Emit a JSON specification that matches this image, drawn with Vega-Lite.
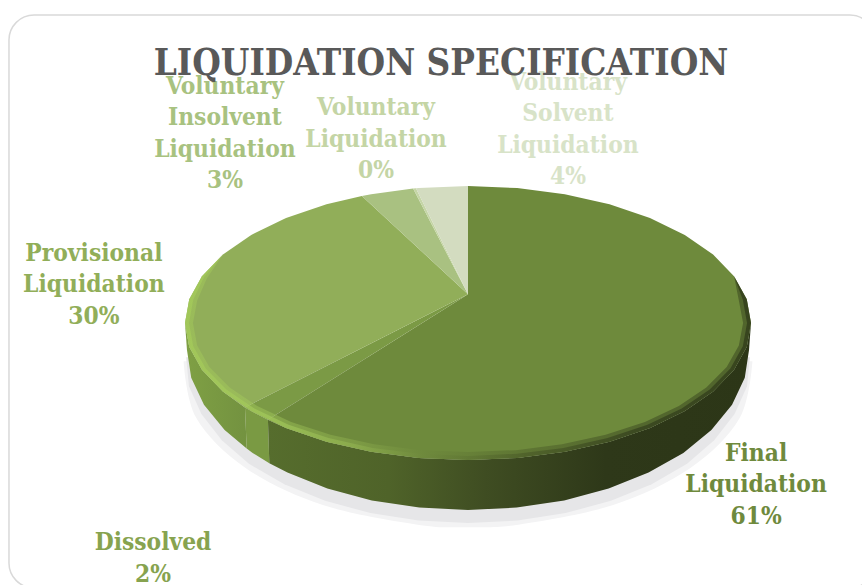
{"$schema":"https://vega.github.io/schema/vega-lite/v6.json","width":862,"height":585,"padding":0,"autosize":{"type":"none"},"background":"white","view":{"stroke":null},
"title":{"text":"LIQUIDATION SPECIFICATION","anchor":"middle","font":"DejaVu Serif Condensed","fontWeight":"bold","fontSize":36.5,"color":"#595959","dx":10,"dy":86},
"datasets":{
"frame":[{"u":-162.2,"v":224.8,"u2":143.8,"v2":-193.4}],
"shadow":[{"s":"outer","i":0,"u":100.5,"v":-28},{"s":"outer","i":1,"u":96,"v":-69.4},{"s":"outer","i":2,"u":78.6,"v":-105.8},{"s":"outer","i":3,"u":51.3,"v":-132.8},{"s":"outer","i":4,"u":17.8,"v":-147.2},{"s":"outer","i":5,"u":0,"v":-149},{"s":"outer","i":6,"u":-17.8,"v":-147.2},{"s":"outer","i":7,"u":-51.3,"v":-132.8},{"s":"outer","i":8,"u":-78.6,"v":-105.8},{"s":"outer","i":9,"u":-96,"v":-69.4},{"s":"outer","i":10,"u":-100.5,"v":-28},
{"s":"inner","i":0,"u":99.6,"v":-25},{"s":"inner","i":1,"u":98.6,"v":-46.1},{"s":"inner","i":2,"u":94.2,"v":-66.4},{"s":"inner","i":3,"u":87,"v":-85.5},{"s":"inner","i":4,"u":77.4,"v":-102.8},{"s":"inner","i":5,"u":64.9,"v":-117.7},{"s":"inner","i":6,"u":50.5,"v":-129.8},{"s":"inner","i":7,"u":34.5,"v":-138.7},{"s":"inner","i":8,"u":17.5,"v":-144.2},{"s":"inner","i":9,"u":0,"v":-146},{"s":"inner","i":10,"u":-17.5,"v":-144.2},{"s":"inner","i":11,"u":-34.5,"v":-138.7},{"s":"inner","i":12,"u":-50.5,"v":-129.8},{"s":"inner","i":13,"u":-64.9,"v":-117.7},{"s":"inner","i":14,"u":-77.4,"v":-102.8},{"s":"inner","i":15,"u":-87,"v":-85.5},{"s":"inner","i":16,"u":-94.2,"v":-66.4},{"s":"inner","i":17,"u":-98.6,"v":-46.1},{"s":"inner","i":18,"u":-99.6,"v":-25}],
"wallProvisional":[{"i":0,"u":-78.8,"v":-61.6},{"i":1,"u":-86.6,"v":-50},{"i":2,"u":-94,"v":-34.2},{"i":3,"u":-98.5,"v":-17.4},{"i":4,"u":-100,"v":0},{"i":5,"u":-99.3,"v":-19.7},{"i":6,"u":-97.8,"v":-40},{"i":7,"u":-93.3,"v":-59.6},{"i":8,"u":-86,"v":-78.1},{"i":9,"u":-78.2,"v":-91.6}],
"wallDissolved":[{"i":0,"u":-70.7,"v":-70.7},{"i":1,"u":-76.6,"v":-64.3},{"i":2,"u":-78.8,"v":-61.6},{"i":3,"u":-78.2,"v":-91.6},{"i":4,"u":-76.1,"v":-94.8},{"i":5,"u":-70.2,"v":-102.3}],
"wallFinal":[{"i":0,"u":100,"v":0},{"i":1,"u":98.5,"v":-17.4},{"i":2,"u":94,"v":-34.2},{"i":3,"u":86.6,"v":-50},{"i":4,"u":76.6,"v":-64.3},{"i":5,"u":64.3,"v":-76.6},{"i":6,"u":50,"v":-86.6},{"i":7,"u":34.2,"v":-94},{"i":8,"u":17.4,"v":-98.5},{"i":9,"u":0,"v":-100},{"i":10,"u":-17.4,"v":-98.5},{"i":11,"u":-34.2,"v":-94},{"i":12,"u":-50,"v":-86.6},{"i":13,"u":-64.3,"v":-76.6},{"i":14,"u":-70.7,"v":-70.7},{"i":15,"u":-70.2,"v":-102.3},{"i":16,"u":-63.8,"v":-109.2},{"i":17,"u":-49.7,"v":-120.8},{"i":18,"u":-34,"v":-129.5},{"i":19,"u":-17.2,"v":-134.7},{"i":20,"u":0,"v":-136.5},{"i":21,"u":17.2,"v":-134.7},{"i":22,"u":34,"v":-129.5},{"i":23,"u":49.7,"v":-120.8},{"i":24,"u":63.8,"v":-109.2},{"i":25,"u":76.1,"v":-94.8},{"i":26,"u":86,"v":-78.1},{"i":27,"u":93.3,"v":-59.6},{"i":28,"u":97.8,"v":-40},{"i":29,"u":99.3,"v":-19.7}],
"top":[
{"slice":"Final Liquidation","i":0,"u":0,"v":21},{"slice":"Final Liquidation","i":1,"u":0,"v":100},{"slice":"Final Liquidation","i":2,"u":17.4,"v":98.5},{"slice":"Final Liquidation","i":3,"u":34.2,"v":94},{"slice":"Final Liquidation","i":4,"u":50,"v":86.6},{"slice":"Final Liquidation","i":5,"u":64.3,"v":76.6},{"slice":"Final Liquidation","i":6,"u":76.6,"v":64.3},{"slice":"Final Liquidation","i":7,"u":86.6,"v":50},{"slice":"Final Liquidation","i":8,"u":94,"v":34.2},{"slice":"Final Liquidation","i":9,"u":98.5,"v":17.4},{"slice":"Final Liquidation","i":10,"u":100,"v":0},{"slice":"Final Liquidation","i":11,"u":98.5,"v":-17.4},{"slice":"Final Liquidation","i":12,"u":94,"v":-34.2},{"slice":"Final Liquidation","i":13,"u":86.6,"v":-50},{"slice":"Final Liquidation","i":14,"u":76.6,"v":-64.3},{"slice":"Final Liquidation","i":15,"u":64.3,"v":-76.6},{"slice":"Final Liquidation","i":16,"u":50,"v":-86.6},{"slice":"Final Liquidation","i":17,"u":34.2,"v":-94},{"slice":"Final Liquidation","i":18,"u":17.4,"v":-98.5},{"slice":"Final Liquidation","i":19,"u":0,"v":-100},{"slice":"Final Liquidation","i":20,"u":-17.4,"v":-98.5},{"slice":"Final Liquidation","i":21,"u":-34.2,"v":-94},{"slice":"Final Liquidation","i":22,"u":-50,"v":-86.6},{"slice":"Final Liquidation","i":23,"u":-64.3,"v":-76.6},{"slice":"Final Liquidation","i":24,"u":-70.7,"v":-70.7},
{"slice":"Dissolved","i":0,"u":0,"v":21},{"slice":"Dissolved","i":1,"u":-70.7,"v":-70.7},{"slice":"Dissolved","i":2,"u":-76.6,"v":-64.3},{"slice":"Dissolved","i":3,"u":-78.8,"v":-61.6},
{"slice":"Provisional Liquidation","i":0,"u":0,"v":21},{"slice":"Provisional Liquidation","i":1,"u":-78.8,"v":-61.6},{"slice":"Provisional Liquidation","i":2,"u":-86.6,"v":-50},{"slice":"Provisional Liquidation","i":3,"u":-94,"v":-34.2},{"slice":"Provisional Liquidation","i":4,"u":-98.5,"v":-17.4},{"slice":"Provisional Liquidation","i":5,"u":-100,"v":0},{"slice":"Provisional Liquidation","i":6,"u":-98.5,"v":17.4},{"slice":"Provisional Liquidation","i":7,"u":-94,"v":34.2},{"slice":"Provisional Liquidation","i":8,"u":-86.6,"v":50},{"slice":"Provisional Liquidation","i":9,"u":-76.6,"v":64.3},{"slice":"Provisional Liquidation","i":10,"u":-64.3,"v":76.6},{"slice":"Provisional Liquidation","i":11,"u":-50,"v":86.6},{"slice":"Provisional Liquidation","i":12,"u":-37.5,"v":92.7},
{"slice":"Voluntary Insolvent Liquidation","i":0,"u":0,"v":21},{"slice":"Voluntary Insolvent Liquidation","i":1,"u":-37.5,"v":92.7},{"slice":"Voluntary Insolvent Liquidation","i":2,"u":-34.2,"v":94},{"slice":"Voluntary Insolvent Liquidation","i":3,"u":-19.4,"v":98.1},
{"slice":"Voluntary Liquidation","i":0,"u":0,"v":21},{"slice":"Voluntary Liquidation","i":1,"u":-19.4,"v":98.1},{"slice":"Voluntary Liquidation","i":2,"u":-18.4,"v":98.3},
{"slice":"Voluntary Solvent Liquidation","i":0,"u":0,"v":21},{"slice":"Voluntary Solvent Liquidation","i":1,"u":-18.4,"v":98.3},{"slice":"Voluntary Solvent Liquidation","i":2,"u":-17.4,"v":98.5},{"slice":"Voluntary Solvent Liquidation","i":3,"u":0,"v":100}],
"bandWide":[{"i":0,"u":-86.6,"v":50},{"i":1,"u":-94,"v":34.2},{"i":2,"u":-98.5,"v":17.4},{"i":3,"u":-100,"v":0},{"i":4,"u":-98.5,"v":-17.4},{"i":5,"u":-94,"v":-34.2},{"i":6,"u":-86.6,"v":-50},{"i":7,"u":-76.6,"v":-64.3},{"i":8,"u":-64.3,"v":-76.6},{"i":9,"u":-50,"v":-86.6},{"i":10,"u":-34.2,"v":-94},{"i":11,"u":-17.4,"v":-98.5},{"i":12,"u":0,"v":-100},{"i":13,"u":17.4,"v":-98.5},{"i":14,"u":34.2,"v":-94},{"i":15,"u":50,"v":-86.6},{"i":16,"u":64.3,"v":-76.6},{"i":17,"u":76.6,"v":-64.3},{"i":18,"u":86.6,"v":-50},{"i":19,"u":94,"v":-34.2},{"i":20,"u":98.5,"v":-17.4},{"i":21,"u":100,"v":0},{"i":22,"u":98.5,"v":17.4},{"i":23,"u":94,"v":34.2},{"i":24,"u":95.7,"v":16.4},{"i":25,"u":97.2,"v":0},{"i":26,"u":95.7,"v":-16.4},{"i":27,"u":91.4,"v":-32.2},{"i":28,"u":84.2,"v":-47.1},{"i":29,"u":74.5,"v":-60.6},{"i":30,"u":62.5,"v":-72.2},{"i":31,"u":48.6,"v":-81.6},{"i":32,"u":33.2,"v":-88.5},{"i":33,"u":16.9,"v":-92.8},{"i":34,"u":0,"v":-94.2},{"i":35,"u":-16.9,"v":-92.8},{"i":36,"u":-33.2,"v":-88.5},{"i":37,"u":-48.6,"v":-81.6},{"i":38,"u":-62.5,"v":-72.2},{"i":39,"u":-74.5,"v":-60.6},{"i":40,"u":-84.2,"v":-47.1},{"i":41,"u":-91.4,"v":-32.2},{"i":42,"u":-95.7,"v":-16.4},{"i":43,"u":-97.2,"v":0},{"i":44,"u":-95.7,"v":16.4},{"i":45,"u":-92.3,"v":32.5}],
"bandThin":[{"i":0,"u":-86.6,"v":50},{"i":1,"u":-94,"v":34.2},{"i":2,"u":-98.5,"v":17.4},{"i":3,"u":-100,"v":0},{"i":4,"u":-98.5,"v":-17.4},{"i":5,"u":-94,"v":-34.2},{"i":6,"u":-86.6,"v":-50},{"i":7,"u":-76.6,"v":-64.3},{"i":8,"u":-64.3,"v":-76.6},{"i":9,"u":-50,"v":-86.6},{"i":10,"u":-34.2,"v":-94},{"i":11,"u":-17.4,"v":-98.5},{"i":12,"u":0,"v":-100},{"i":13,"u":17.4,"v":-98.5},{"i":14,"u":34.2,"v":-94},{"i":15,"u":50,"v":-86.6},{"i":16,"u":64.3,"v":-76.6},{"i":17,"u":76.6,"v":-64.3},{"i":18,"u":86.6,"v":-50},{"i":19,"u":94,"v":-34.2},{"i":20,"u":98.5,"v":-17.4},{"i":21,"u":100,"v":0},{"i":22,"u":98.5,"v":17.4},{"i":23,"u":94,"v":34.2},{"i":24,"u":97.1,"v":16.9},{"i":25,"u":98.6,"v":0},{"i":26,"u":97.1,"v":-16.9},{"i":27,"u":92.7,"v":-33.2},{"i":28,"u":85.4,"v":-48.5},{"i":29,"u":75.5,"v":-62.4},{"i":30,"u":63.4,"v":-74.3},{"i":31,"u":49.3,"v":-84},{"i":32,"u":33.7,"v":-91.2},{"i":33,"u":17.2,"v":-95.5},{"i":34,"u":0,"v":-97},{"i":35,"u":-17.2,"v":-95.5},{"i":36,"u":-33.7,"v":-91.2},{"i":37,"u":-49.3,"v":-84},{"i":38,"u":-63.4,"v":-74.3},{"i":39,"u":-75.5,"v":-62.4},{"i":40,"u":-85.4,"v":-48.5},{"i":41,"u":-92.7,"v":-33.2},{"i":42,"u":-97.1,"v":-16.9},{"i":43,"u":-98.6,"v":0},{"i":44,"u":-97.1,"v":16.9},{"i":45,"u":-93.3,"v":33.4}],
"labels":[
{"slice":"Final Liquidation","share":61,"text":"Final\nLiquidation\n61%","u":101.8,"v":-95.6},
{"slice":"Dissolved","share":2,"text":"Dissolved\n2%","u":-111.3,"v":-160.6},
{"slice":"Provisional Liquidation","share":30,"text":"Provisional\nLiquidation\n30%","u":-132.2,"v":50.4},
{"slice":"Voluntary Insolvent Liquidation","share":3,"text":"Voluntary\nInsolvent\nLiquidation\n3%","u":-85.9,"v":172.3},
{"slice":"Voluntary Liquidation","share":0,"text":"Voluntary\nLiquidation\n0%","u":-32.5,"v":156.9},
{"slice":"Voluntary Solvent Liquidation","share":4,"text":"Voluntary\nSolvent\nLiquidation\n4%","u":35.3,"v":175.2}]
},
"encoding":{
"x":{"field":"u","type":"quantitative","axis":null,"scale":{"domain":[-165.37,139.22],"nice":false,"zero":false}},
"y":{"field":"v","type":"quantitative","axis":null,"scale":{"domain":[-191.24,235.77],"nice":false,"zero":false}}},
"layer":[
{"data":{"name":"frame"},"mark":{"type":"rect","fill":"white","stroke":"#d9d9d9","strokeWidth":1.5,"cornerRadius":25},"encoding":{"x2":{"field":"u2"},"y2":{"field":"v2"}}},
{"data":{"name":"shadow"},"transform":[{"filter":"datum.s==='outer'"}],"mark":{"type":"line","filled":true,"fill":"#f3f3f4","strokeWidth":0,"interpolate":"cardinal"},"encoding":{"order":{"field":"i"}}},
{"data":{"name":"shadow"},"transform":[{"filter":"datum.s==='inner'"}],"mark":{"type":"line","filled":true,"fill":"#e6e6e8","strokeWidth":0},"encoding":{"order":{"field":"i"}}},
{"data":{"name":"wallProvisional"},"mark":{"type":"line","filled":true,"strokeWidth":0,"fill":{"gradient":"linear","x1":0,"x2":1,"y1":0,"y2":0,"stops":[{"offset":0,"color":"#7fa044"},{"offset":1,"color":"#739240"}]}},"encoding":{"order":{"field":"i"}}},
{"data":{"name":"wallDissolved"},"mark":{"type":"line","filled":true,"strokeWidth":0,"fill":"#7a9a43"},"encoding":{"order":{"field":"i"}}},
{"data":{"name":"wallFinal"},"mark":{"type":"line","filled":true,"strokeWidth":0,"fill":{"gradient":"linear","x1":0,"x2":1,"y1":0,"y2":0,"stops":[{"offset":0,"color":"#566d2d"},{"offset":0.25,"color":"#4f6329"},{"offset":0.45,"color":"#3f4d22"},{"offset":0.7,"color":"#2e3819"},{"offset":1,"color":"#2c3617"}]}},"encoding":{"order":{"field":"i"}}},
{"data":{"name":"top"},"mark":{"type":"line","filled":true,"strokeWidth":0},"encoding":{"order":{"field":"i"},"detail":{"field":"slice"},"fill":{"field":"slice","type":"nominal","legend":null,"scale":{"domain":["Final Liquidation","Dissolved","Provisional Liquidation","Voluntary Insolvent Liquidation","Voluntary Liquidation","Voluntary Solvent Liquidation"],"range":["#6e8a3c","#7b9a45","#91ae59","#a9c181","#c5d5a6","#d3dcc0"]}}}},
{"data":{"name":"bandWide"},"mark":{"type":"line","filled":true,"strokeWidth":0,"opacity":0.45,"fill":{"gradient":"linear","x1":0,"x2":1,"y1":0,"y2":0,"stops":[{"offset":0,"color":"#a5cc5a"},{"offset":0.15,"color":"#a3c95b"},{"offset":0.3,"color":"#8fb04f"},{"offset":0.42,"color":"#6f8a3d"},{"offset":0.6,"color":"#4b5c28"},{"offset":0.8,"color":"#323d1c"},{"offset":1,"color":"#2d3718"}]}},"encoding":{"order":{"field":"i"}}},
{"data":{"name":"bandThin"},"mark":{"type":"line","filled":true,"strokeWidth":0,"opacity":0.7,"fill":{"gradient":"linear","x1":0,"x2":1,"y1":0,"y2":0,"stops":[{"offset":0,"color":"#a5cc5a"},{"offset":0.15,"color":"#a3c95b"},{"offset":0.3,"color":"#8fb04f"},{"offset":0.42,"color":"#6f8a3d"},{"offset":0.6,"color":"#4b5c28"},{"offset":0.8,"color":"#323d1c"},{"offset":1,"color":"#2d3718"}]}},"encoding":{"order":{"field":"i"}}},
{"data":{"name":"labels"},"mark":{"type":"text","font":"DejaVu Serif Condensed","fontWeight":"bold","fontSize":24.3,"lineHeight":31.5,"lineBreak":"\n","align":"center","baseline":"middle"},"encoding":{"text":{"field":"text"},"color":{"field":"slice","type":"nominal","legend":null,"scale":{"domain":["Final Liquidation","Dissolved","Provisional Liquidation","Voluntary Insolvent Liquidation","Voluntary Liquidation","Voluntary Solvent Liquidation"],"range":["#6f8a3d","#87a34f","#91ae59","#a8c280","#c4d5a5","#d8e3c8"]}}}}
]}
